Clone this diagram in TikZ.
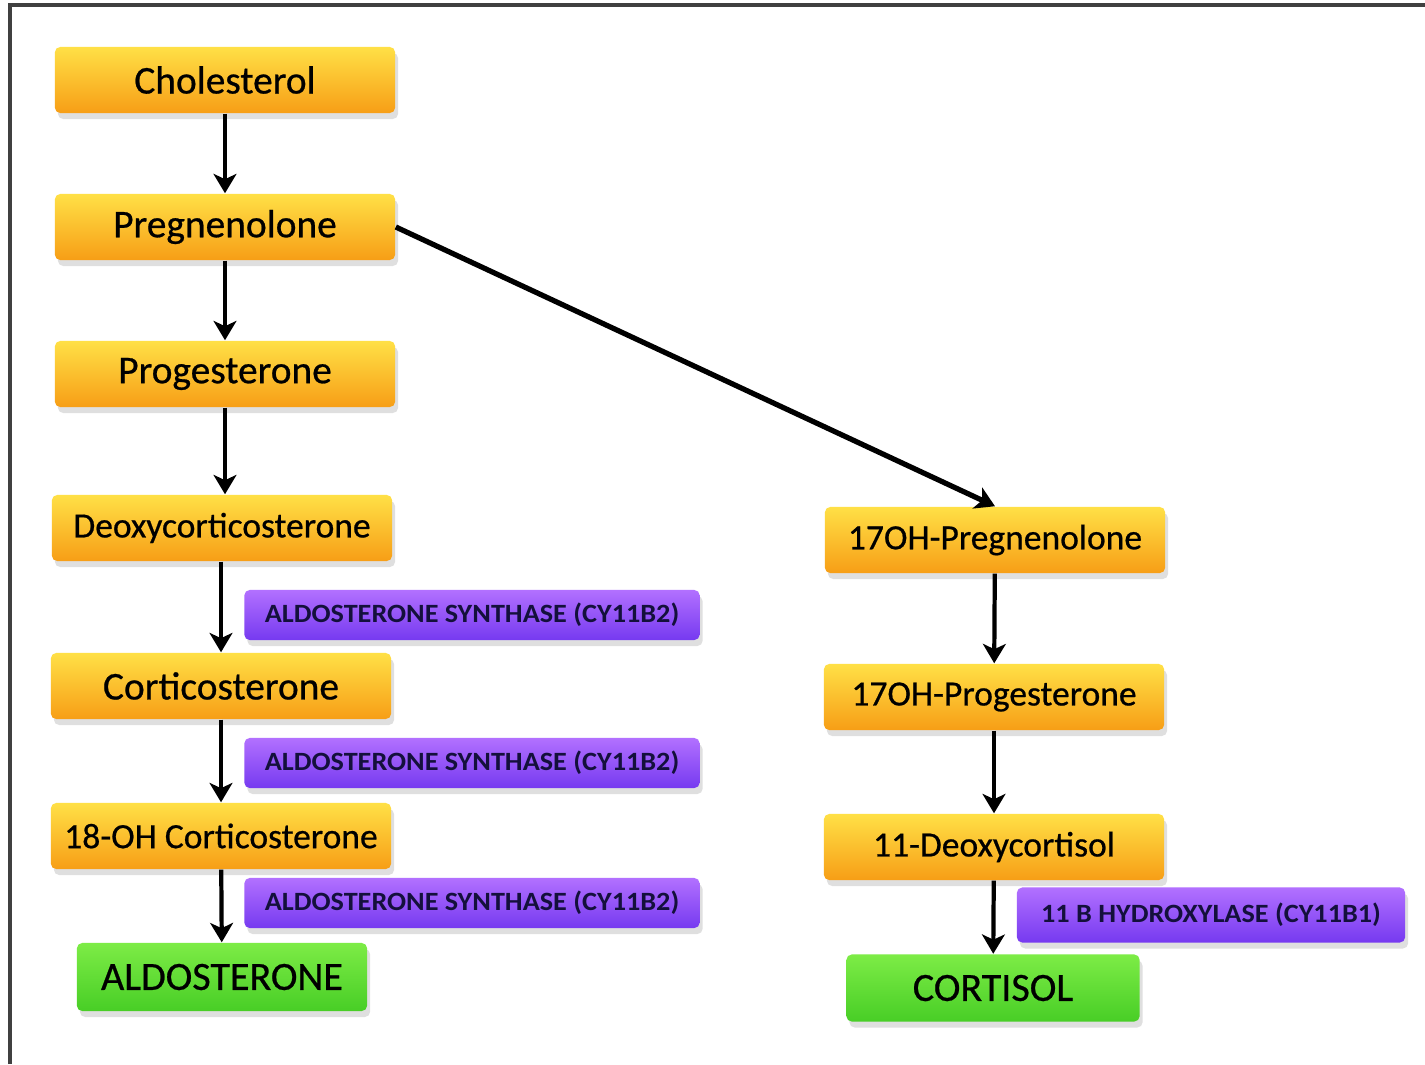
\documentclass[tikz,border=0pt]{standalone}
\usepackage{fontspec}
\setmainfont{Carlito}
\newfontfamily\heavy[FakeBold=0.6]{Carlito}
\usetikzlibrary{arrows.meta,shadows}
\definecolor{ortop}{RGB}{255,224,70}
\definecolor{orbot}{RGB}{247,158,22}
\definecolor{grtop}{RGB}{125,236,70}
\definecolor{grbot}{RGB}{72,206,38}
\definecolor{putop}{RGB}{178,112,255}
\definecolor{pubot}{RGB}{118,58,240}
\definecolor{enzink}{RGB}{20,16,60}
\newcommand{\enztext}[1]{\scalebox{1.07}[1]{\fontsize{7.5}{8}\selectfont\bfseries #1}}
\begin{document}
\begin{tikzpicture}[x=0.01cm,y=-0.01cm,
    box/.style={rounded corners=1.5pt, inner sep=0pt, text=black,
      drop shadow={shadow xshift=0.3mm, shadow yshift=-0.6mm, opacity=0.25}},
    mol/.style={box, top color=ortop, bottom color=orbot,
      minimum width=3.4cm, minimum height=0.66cm},
    prod/.style={box, top color=grtop, bottom color=grbot,
      minimum width=2.9cm, minimum height=0.68cm, font=\heavy\fontsize{11.4}{13}\selectfont},
    enz/.style={box, top color=putop, bottom color=pubot, text=enzink,
      minimum width=4.55cm, minimum height=0.5cm},
    big/.style={font=\heavy\fontsize{11.2}{13}\selectfont},
    small/.style={font=\heavy\fontsize{10.1}{12}\selectfont},
    >={Stealth[length=5.5pt,width=6.5pt,inset=1.5pt]}]
  \useasboundingbox (0,0) rectangle (1425,1064);
  \fill[white] (0,0) rectangle (1425,1064);
  \draw[line width=1pt, black!75] (10,1064) -- (10,5) -- (1425,5);

  % aldosterone branch
  \node[mol, big] (chol) at (225,80) {Cholesterol};
  \node[mol, big] (preg) at (225,227) {Pregnenolone};
  \node[mol, big] (prog) at (225,374) {Progesterone};
  \node[mol, small] (doc) at (222,528) {Deoxycorticosterone};
  \node[mol, big] (cort) at (221,686) {Corticosterone};
  \node[mol, small] (ohcort) at (221,836) {18-OH Corticosterone};
  \node[prod] (aldo) at (222,977) {ALDOSTERONE};
  \node[enz] (as1) at (472,615) {\enztext{ALDOSTERONE SYNTHASE (CY11B2)}};
  \node[enz] (as2) at (472,763) {\enztext{ALDOSTERONE SYNTHASE (CY11B2)}};
  \node[enz] (as3) at (472,903) {\enztext{ALDOSTERONE SYNTHASE (CY11B2)}};

  % cortisol branch
  \node[mol, small] (ohpreg) at (995,540) {17OH-Pregnenolone};
  \node[mol, small] (ohprog) at (994,697) {17OH-Progesterone};
  \node[mol, small] (deox) at (994,847) {11-Deoxycortisol};
  \node[prod, minimum width=2.93cm, minimum height=0.67cm] (cortisol) at (993,988) {CORTISOL};
  \node[enz, minimum width=3.88cm, minimum height=0.55cm] (hyd) at (1211,915) {\enztext{11 B HYDROXYLASE (CY11B1)}};

  \draw[->, very thick] (chol) -- (preg);
  \draw[->, very thick] (preg) -- (prog);
  \draw[->, very thick] (prog) -- (prog |- doc.north);
  \draw[->, very thick] (doc.south -| cort) -- (cort);
  \draw[->, very thick] (cort) -- (ohcort);
  \draw[->, very thick] (ohcort) -- (aldo);
  \draw[->, line width=1.5pt] (preg.east) -- (ohpreg.north);
  \draw[->, very thick] (ohpreg) -- (ohprog);
  \draw[->, very thick] (ohprog) -- (deox);
  \draw[->, very thick] (deox) -- (cortisol);
\end{tikzpicture}
\end{document}
